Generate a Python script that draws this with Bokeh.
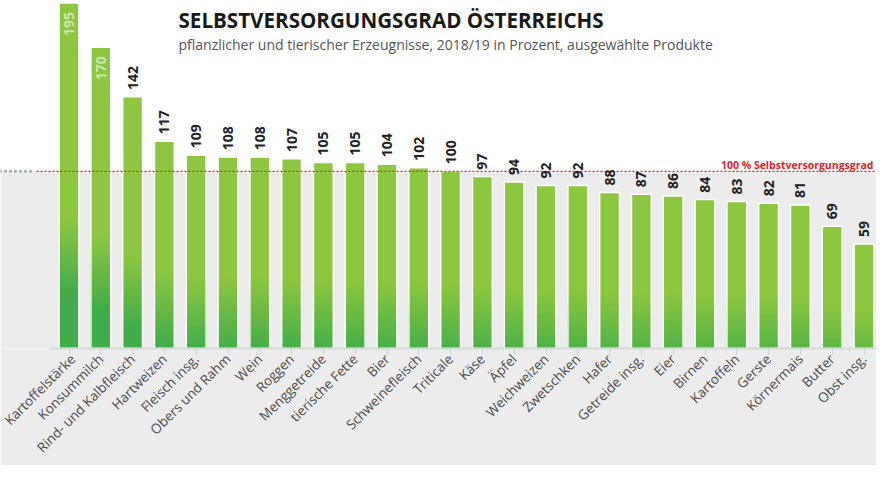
import math
from bokeh.plotting import figure
from bokeh.models import Range1d, FixedTicker, BoxAnnotation, Label, ColumnDataSource
from bokeh.embed import file_html
from bokeh.resources import INLINE
from bokeh.core.properties import value

# ---------------- data ----------------
categories = ["Kartoffelstärke", "Konsummilch", "Rind- und Kalbfleisch", "Hartweizen",
              "Fleisch insg.", "Obers und Rahm", "Wein", "Roggen", "Menggetreide",
              "tierische Fette", "Bier", "Schweinefleisch", "Triticale", "Käse", "Äpfel",
              "Weichweizen", "Zwetschken", "Hafer", "Getreide insg.", "Eier", "Birnen",
              "Kartoffeln", "Gerste", "Körnermais", "Butter", "Obst insg."]
values = [195, 170, 142, 117, 109, 108, 108, 107, 105, 105, 104, 102, 100, 97, 94,
          92, 92, 88, 87, 86, 84, 83, 82, 81, 69, 59]
reference_value = 100
reference_label = "100 % Selbstversorgungsgrad"
title_text = "SELBSTVERSORGUNGSGRAD ÖSTERREICHS"
subtitle_text = "pflanzlicher und tierischer Erzeugnisse, 2018/19 in Prozent, ausgewählte Produkte"

# ---------------- styling ----------------
W, H = 876, 465
GRAY = "#ebeceb"
LIGHT = (141, 198, 63)
DARK = (64, 172, 74)
PITCH = 31.8           # px per category
FIRST_CENTER = 68.5    # px of first category centre
x_start = -FIRST_CENTER / PITCH
x_end = x_start + W / PITCH
y_top = 196.4
K = 1.78               # approx px per value unit (for gradient)
BAR_W = 0.62

idx = list(range(len(categories)))

p = figure(width=W, height=H, x_range=Range1d(x_start, x_end), y_range=Range1d(0, y_top),
           output_backend="svg", toolbar_location=None, y_axis_location=None,
           min_border=0, background_fill_color="white", border_fill_color=GRAY,
           outline_line_color=None)
p.xgrid.visible = False
p.ygrid.visible = False

# gray area below 100 %
p.add_layout(BoxAnnotation(top=reference_value, fill_color=GRAY, fill_alpha=1.0,
                           line_color=None, level="underlay"))

# ---------------- gradient bars (nested slices, darker ones drawn on top) ----------------
def mix(t):
    c = [round(LIGHT[j] + (DARK[j] - LIGHT[j]) * t) for j in range(3)]
    return "#%02x%02x%02x" % tuple(c)

seg_x, seg_t, seg_c = [], [], []
GW = 74.0  # gradient width px
for i, v in zip(idx, values):
    h = v * K
    start = 0.38 * h - 3.0
    edges = [h]
    cur = min(start, h)
    if cur < h:
        edges.append(cur)
    while cur > 0 and cur > start - GW:
        nxt = max(cur - 1.0, 0.0, start - GW)
        edges.append(nxt)
        cur = nxt
    for a, b in zip(edges[:-1], edges[1:]):
        mid = (a + b) / 2
        t = min(max((start - mid) / GW, 0.0), 1.0)
        seg_x.append(i)
        seg_t.append(a / K)
        seg_c.append(mix(t))

p.vbar(x=seg_x, bottom=0, top=seg_t, width=BAR_W, fill_color=seg_c, line_color=None)
p.vbar(x=idx, top=values, width=BAR_W, fill_color=None, line_color="white", line_width=1.4)

# ---------------- reference line ----------------
dots_end = (32 - FIRST_CENTER) / PITCH
red_start = (36 - FIRST_CENTER) / PITCH
p.segment(x0=[x_start], x1=[dots_end], y0=[reference_value], y1=[reference_value],
          line_color="#98ada1", line_width=3, line_dash="0 5", line_cap="round")
p.segment(x0=[red_start], x1=[x_end], y0=[reference_value], y1=[reference_value],
          line_color="#e2232a", line_width=1.2, line_dash="2 2")
p.add_layout(Label(x=W - 3, x_units="screen", y=reference_value, y_units="data",
                   y_offset=6, text=reference_label, text_color="#e2232a",
                   text_font="Open Sans", text_font_style="bold", text_align="right",
                   text_font_size="10.5px", text_baseline="alphabetic"))

# ---------------- value labels ----------------
inside = [v > 150 for v in values]
out_src = ColumnDataSource(dict(x=[i for i, f in zip(idx, inside) if not f],
                                y=[v for v, f in zip(values, inside) if not f],
                                t=[str(v) for v, f in zip(values, inside) if not f]))
in_src = ColumnDataSource(dict(x=[i for i, f in zip(idx, inside) if f],
                               y=[v for v, f in zip(values, inside) if f],
                               t=[str(v) for v, f in zip(values, inside) if f]))
p.text(x="x", y="y", text="t", source=out_src, angle=math.pi / 2, text_align="left",
       text_baseline="middle", y_offset=-7, text_font=value("Open Sans"),
       text_font_style="bold", text_font_size="14px", text_color="#222222")
p.text(x="x", y="y", text="t", source=in_src, angle=math.pi / 2, text_align="right",
       text_baseline="middle", y_offset=9, text_font=value("Open Sans"),
       text_font_style="bold", text_font_size="14px", text_color="#cfe5b0")

# ---------------- titles ----------------
p.add_layout(Label(x=178, x_units="screen", y=y_top, y_units="data", y_offset=-19,
                   text=title_text, text_color="#1a1a1a", text_font="Open Sans",
                   text_font_style="bold", text_font_size="20.6px", text_baseline="alphabetic"))
p.add_layout(Label(x=178, x_units="screen", y=y_top, y_units="data", y_offset=-44,
                   text=subtitle_text, text_color="#555555", text_font="Open Sans",
                   text_font_size="14px", text_baseline="alphabetic"))

# ---------------- x axis ----------------
ax = p.xaxis[0]
ax.ticker = FixedTicker(ticks=idx)
ax.major_label_overrides = {i: c for i, c in zip(idx, categories)}
ax.major_label_orientation = math.pi / 4
ax.major_label_text_font = "Open Sans"
ax.major_label_text_font_size = "13.5px"
ax.major_label_text_color = "#4d4d4d"
ax.major_label_standoff = 2
ax.axis_line_color = "#d3dbd6"
ax.axis_line_width = 2
ax.bounds = ((57 - 8 - FIRST_CENTER) / PITCH, x_end)
ax.major_tick_in = 0
ax.major_tick_out = 6
ax.major_tick_line_color = "#c8d0cb"
ax.minor_tick_line_color = None

open("out.html", "w").write(file_html(p, INLINE))
